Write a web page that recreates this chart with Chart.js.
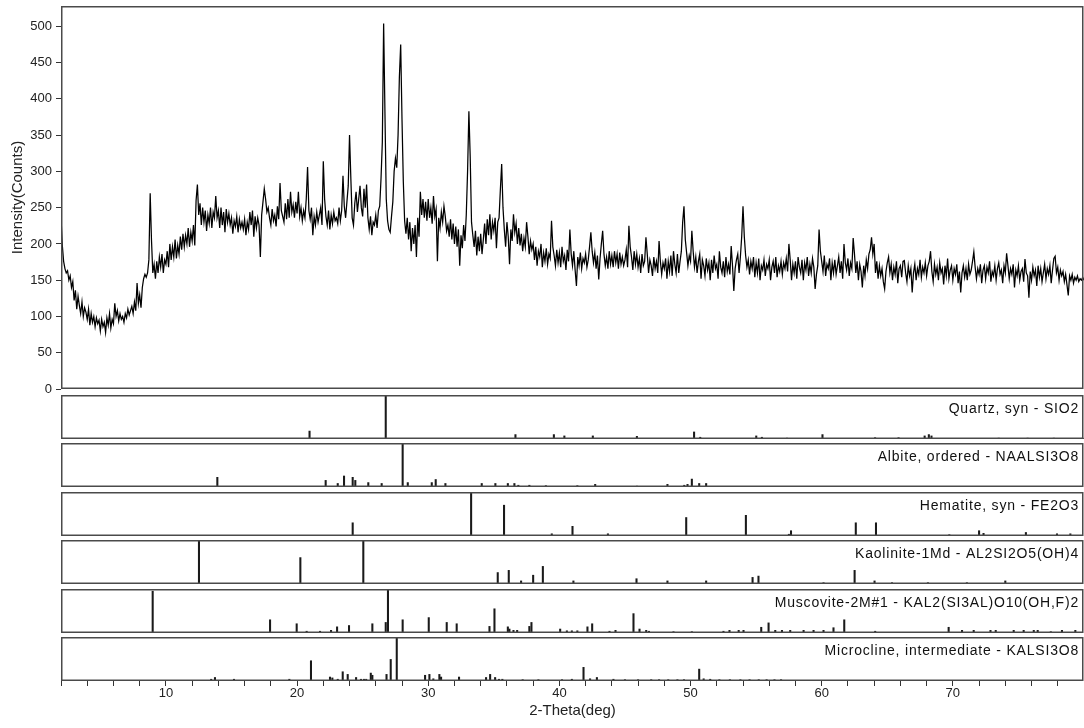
<!DOCTYPE html>
<html>
<head>
<meta charset="utf-8">
<title>XRD pattern</title>
<script src="https://cdn.jsdelivr.net/npm/chart.js@4.4.1/dist/chart.umd.min.js"></script>
<style>
  body { margin: 0; background: #fff; }
  #wrap { position: relative; width: 1084px; height: 728px; overflow: hidden; }
  #wrap canvas { position: absolute; left: 0; }
</style>
</head>
<body>
<div id="wrap"></div>
<script>
// scan: 2-Theta from 2 to 80 deg, one reading every 0.1 deg
const thetaStart = 2;
const thetaStep = 0.1;
const counts = [
  237, 198, 176, 166, 160, 163, 150, 156, 140, 148,
  122, 136, 110, 128, 115, 104, 120, 100, 112, 106,
  96, 110, 88, 104, 92, 100, 86, 98, 90, 95,
  80, 96, 86, 92, 78, 98, 88, 104, 84, 96,
  90, 118, 100, 108, 94, 104, 96, 100, 92, 104,
  98, 110, 102, 108, 114, 104, 120, 108, 146, 118,
  130, 112, 140, 152, 158, 154, 160, 178, 270, 205,
  160, 172, 152, 176, 160, 182, 168, 186, 160, 178,
  172, 190, 168, 200, 178, 196, 182, 206, 180, 198,
  186, 210, 192, 214, 196, 212, 200, 222, 196, 216,
  204, 226, 198, 260, 282, 240, 256, 226, 250, 230,
  246, 218, 240, 228, 250, 222, 244, 236, 266, 236,
  246, 222, 250, 226, 244, 216, 248, 230, 242, 226,
  236, 214, 232, 224, 238, 216, 234, 222, 230, 220,
  234, 212, 230, 220, 244, 226, 246, 210, 238, 222,
  236, 226, 182, 240, 258, 276, 262, 244, 250, 236,
  226, 248, 232, 240, 224, 252, 234, 284, 246, 238,
  230, 256, 234, 262, 236, 272, 244, 254, 236, 258,
  242, 272, 238, 250, 232, 246, 236, 262, 306, 246,
  234, 250, 212, 238, 226, 244, 230, 240, 250, 226,
  314, 262, 238, 226, 246, 220, 240, 228, 244, 232,
  236, 228, 250, 232, 246, 294, 252, 236, 258, 280,
  350, 290, 236, 226, 256, 272, 244, 262, 280, 250,
  238, 276, 250, 282, 236, 220, 238, 212, 230, 226,
  240, 222, 246, 252, 290, 340, 504, 380, 262, 232,
  220, 216, 238, 258, 300, 318, 305, 350, 430, 475,
  372, 286, 232, 214, 236, 206, 230, 190, 222, 200,
  226, 182, 236, 210, 272, 240, 262, 236, 258, 232,
  262, 236, 250, 228, 266, 238, 248, 176, 236, 222,
  244, 230, 252, 238, 218, 226, 210, 234, 206, 228,
  200, 224, 196, 220, 170, 212, 194, 226, 204, 240,
  300, 383, 320, 230, 212, 196, 218, 184, 210, 190,
  214, 186, 206, 228, 200, 234, 212, 241, 206, 230,
  218, 236, 194, 230, 236, 275, 310, 250, 220, 196,
  230, 210, 172, 220, 204, 241, 216, 228, 200, 222,
  198, 214, 190, 208, 196, 230, 210, 186, 204, 192,
  200, 178, 196, 170, 190, 182, 200, 168, 188, 176,
  194, 172, 186, 180, 232, 196, 184, 170, 192, 174,
  188, 168, 196, 176, 184, 164, 192, 176, 220, 186,
  170, 190, 164, 142, 182, 170, 188, 166, 180, 174,
  186, 168, 178, 196, 216, 190, 174, 188, 166, 184,
  151, 180, 200, 218, 186, 170, 182, 166, 190, 172,
  184, 168, 190, 174, 186, 166, 188, 172, 182, 170,
  178, 192, 168, 225, 196, 182, 164, 190, 172, 186,
  168, 180, 160, 186, 170, 176, 209, 186, 160, 178,
  170, 156, 182, 166, 176, 160, 204, 176, 158, 174,
  166, 180, 152, 176, 162, 184, 156, 190, 172, 160,
  186, 160, 176, 190, 230, 252, 206, 188, 170, 184,
  176, 218, 190, 168, 182, 160, 176, 186, 152, 178,
  170, 156, 180, 164, 174, 150, 178, 160, 184, 166,
  172, 152, 190, 168, 160, 176, 154, 182, 162, 172,
  158, 197, 170, 135, 166, 178, 186, 160, 182, 210,
  252, 210, 184, 168, 178, 158, 176, 166, 182, 154,
  174, 160, 180, 150, 170, 164, 178, 156, 172, 166,
  178, 150, 168, 176, 160, 182, 154, 170, 162, 176,
  158, 174, 166, 180, 162, 200, 178, 150, 172, 160,
  176, 152, 182, 168, 160, 178, 150, 174, 164, 182,
  156, 172, 160, 180, 168, 138, 158, 170, 220, 190,
  176, 162, 184, 156, 172, 166, 180, 150, 174, 160,
  178, 158, 170, 182, 160, 176, 152, 200, 174, 164,
  180, 156, 174, 166, 208, 186, 160, 176, 150, 172,
  162, 140, 170, 156, 178, 166, 186, 192, 209, 186,
  200, 160, 176, 152, 170, 156, 166, 148, 138, 162,
  174, 182, 160, 172, 150, 168, 158, 176, 146, 166,
  170, 154, 176, 177, 160, 148, 170, 156, 166, 133,
  160, 172, 150, 166, 158, 178, 154, 168, 160, 174,
  156, 170, 176, 190, 162, 148, 172, 158, 168, 150,
  174, 160, 166, 144, 170, 156, 180, 152, 164, 170,
  150, 166, 158, 172, 146, 162, 133, 160, 170, 154,
  166, 150, 172, 158, 164, 176, 189, 168, 152, 166,
  158, 172, 146, 164, 170, 152, 168, 160, 176, 148,
  162, 156, 170, 150, 166, 174, 158, 164, 146, 170,
  160, 187, 170, 152, 166, 158, 172, 140, 164, 156,
  170, 150, 162, 166, 148, 179, 160, 156, 126, 162,
  150, 168, 156, 164, 142, 170, 154, 166, 148, 160,
  172, 152, 166, 158, 170, 146, 164, 180, 183, 160,
  168, 150, 164, 156, 162, 148, 158, 144, 129, 156,
  150, 158, 146, 154, 150, 156, 148, 152, 150, 154,
  150
];

// reference patterns: stick positions (deg) and relative heights (%)
const quartzPos = [20.95, 26.76, 36.65, 39.58, 40.38, 42.55, 45.91, 50.27, 50.74, 55.01, 55.44, 57.35, 60.06, 64.07, 65.86, 67.85, 68.17, 68.37, 73.5, 75.7, 77.7, 79.9];
const quartzRel = [18, 100, 10, 10, 7, 7, 6, 16, 4, 7, 4, 2, 10, 3, 3, 7, 10, 7, 2, 2, 2, 2];

const albitePos = [13.92, 22.18, 23.10, 23.58, 24.24, 24.44, 25.43, 26.45, 28.05, 28.44, 30.27, 30.57, 31.31, 34.08, 35.12, 36.07, 36.57, 36.87, 37.71, 38.97, 41.37, 42.73, 45.91, 48.24, 49.52, 49.77, 50.10, 50.66, 51.19];
const albiteRel = [22, 15, 8, 25, 22, 15, 10, 8, 100, 10, 10, 17, 8, 8, 8, 8, 8, 4, 4, 3, 3, 6, 2, 6, 4, 6, 18, 8, 8];

const hematitePos = [24.24, 33.27, 35.78, 39.42, 41.0, 43.7, 49.67, 54.22, 57.5, 57.66, 62.6, 64.14, 69.73, 72.0, 72.34, 75.57, 77.94, 78.96];
const hematiteRel = [30, 100, 70, 5, 22, 5, 42, 47, 4, 12, 30, 30, 3, 12, 6, 8, 5, 5];

const kaolinitePos = [12.52, 20.25, 25.05, 35.30, 36.14, 37.08, 38.0, 38.74, 41.07, 45.88, 48.24, 51.19, 54.73, 55.18, 60.14, 62.51, 64.03, 65.36, 68.1, 71.07, 74.0];
const kaoliniteRel = [100, 60, 100, 26, 31, 7, 20, 40, 7, 12, 7, 7, 15, 18, 3, 31, 7, 3, 3, 3, 7];

const muscovitePos = [8.99, 17.94, 19.97, 20.73, 21.75, 22.59, 23.05, 23.96, 25.74, 26.76, 26.93, 28.05, 30.04, 31.41, 32.17, 34.67, 35.05, 36.07, 36.19, 36.5, 36.78, 37.71, 37.87, 40.06, 40.57, 40.95, 41.37, 42.14, 42.5, 43.82, 44.28, 45.65, 46.11, 46.62, 46.83, 48.7, 50.1, 52.51, 52.97, 53.67, 54.04, 55.39, 55.95, 56.46, 56.97, 57.6, 58.62, 59.38, 60.14, 60.9, 61.72, 64.08, 69.68, 70.7, 71.59, 72.87, 73.27, 74.64, 75.4, 76.17, 76.47, 77.47, 78.32, 79.34];
const muscoviteRel = [95, 30, 21, 4, 4, 6, 14, 17, 21, 24, 100, 30, 35, 24, 21, 15, 55, 14, 9, 6, 6, 15, 24, 9, 5, 5, 5, 14, 21, 4, 6, 44, 9, 6, 4, 3, 3, 4, 6, 6, 6, 13, 23, 6, 6, 6, 6, 6, 6, 12, 30, 4, 13, 6, 6, 6, 6, 6, 6, 6, 6, 3, 6, 6];

const microclinePos = [13.45, 13.74, 15.19, 19.41, 21.06, 22.51, 22.69, 23.10, 23.48, 23.86, 24.50, 24.87, 25.10, 25.27, 25.62, 25.74, 26.82, 27.14, 27.60, 29.76, 30.09, 30.39, 30.85, 30.98, 32.35, 34.41, 34.72, 35.10, 35.40, 35.65, 37.2, 38.4, 40.2, 40.95, 41.84, 42.34, 42.86, 44.12, 45.0, 46.0, 47.0, 47.6, 48.3, 49.0, 49.5, 50.66, 51.0, 51.5, 52.2, 53.0, 53.8, 54.5, 55.2, 55.8, 56.4, 56.9];
const microclineRel = [4, 8, 4, 4, 46, 9, 7, 4, 21, 15, 8, 4, 4, 4, 18, 13, 15, 49, 100, 13, 15, 5, 15, 9, 9, 8, 15, 8, 4, 4, 3, 3, 3, 4, 31, 5, 8, 4, 3, 3, 3, 3, 3, 3, 3, 27, 5, 4, 3, 3, 3, 3, 3, 3, 3, 3];

const phaseNames = [
  'Quartz, syn - SIO2',
  'Albite, ordered - NAALSI3O8',
  'Hematite, syn - FE2O3',
  'Kaolinite-1Md - AL2SI2O5(OH)4',
  'Muscovite-2M#1 - KAL2(SI3AL)O10(OH,F)2',
  'Microcline, intermediate - KALSI3O8'
];
const phasePos = [quartzPos, albitePos, hematitePos, kaolinitePos, muscovitePos, microclinePos];
const phaseRel = [quartzRel, albiteRel, hematiteRel, kaoliniteRel, muscoviteRel, microclineRel];

const yTicksStep = 50;

Chart.defaults.font.family = '"Liberation Sans", Arial, sans-serif';
Chart.defaults.color = '#222';
Chart.defaults.animation = false;

// frame around each plot area, plus the phase name in the upper right
const panelFrame = {
  id: 'panelFrame',
  afterDraw(chart, args, opts) {
    const { ctx, chartArea: a } = chart;
    ctx.save();
    ctx.strokeStyle = '#4a4a4a';
    ctx.lineWidth = 1.5;
    ctx.strokeRect(a.left + 0.75, a.top + 0.75, a.right - a.left - 2, a.bottom - a.top - 1.5);
    if (opts.label) {
      ctx.fillStyle = '#111';
      ctx.font = '14px "Liberation Sans", Arial, sans-serif';
      ctx.letterSpacing = '0.8px';
      ctx.textAlign = 'right';
      ctx.textBaseline = 'alphabetic';
      ctx.fillText(opts.label, a.right - 5, a.top + 18);
    }
    ctx.restore();
  }
};

const wrap = document.getElementById('wrap');
function addCanvas(top, height) {
  const c = document.createElement('canvas');
  c.width = 1084;
  c.height = height;
  c.style.top = top + 'px';
  wrap.appendChild(c);
  return c;
}

// main scan
const scan = counts.map((c, i) => ({ x: +(thetaStart + i * thetaStep).toFixed(2), y: c }));

new Chart(addCanvas(0, 400), {
  type: 'line',
  data: {
    datasets: [{
      data: scan,
      borderColor: '#000',
      borderWidth: 1.25,
      pointRadius: 0,
      tension: 0
    }]
  },
  options: {
    responsive: false,
    layout: { padding: { top: 6, right: 0, bottom: 11, left: 0 } },
    plugins: { legend: { display: false }, tooltip: { enabled: false }, panelFrame: {} },
    scales: {
      x: { type: 'linear', min: 2, max: 80, display: false },
      y: {
        min: 0,
        max: 528,
        afterFit(scale) { scale.width = 61; },
        afterBuildTicks(scale) {
          scale.ticks = scale.ticks.filter(t => t.value % yTicksStep === 0);
        },
        ticks: { stepSize: yTicksStep, padding: 4, color: '#222', font: { size: 13, lineHeight: 0.2 } },
        grid: { drawOnChartArea: false, drawTicks: true, tickLength: 5, color: '#333' },
        border: { display: false },
        title: {
          display: true,
          text: 'Intensity(Counts)',
          color: '#222',
          font: { size: 15 },
          padding: { top: 9, bottom: 0 }
        }
      }
    }
  },
  plugins: [panelFrame]
});

// reference stick panels
const panelTops = [395, 443, 492, 540, 589, 637];
const panelHeight = 44;

phaseNames.forEach((name, k) => {
  const last = k === phaseNames.length - 1;
  const top = panelTops[k] - 2;
  const height = last ? 728 - top : panelHeight + 4;
  new Chart(addCanvas(top, height), {
    type: 'bar',
    data: {
      datasets: [{
        data: phasePos[k].map((p, i) => ({ x: p, y: phaseRel[k][i] })),
        backgroundColor: '#1a1a1a',
        borderWidth: 0,
        barThickness: 1.4
      }]
    },
    options: {
      responsive: false,
      layout: { padding: { top: 2, right: 0, bottom: last ? 0 : 2, left: 61 } },
      plugins: { legend: { display: false }, tooltip: { enabled: false }, panelFrame: { label: name } },
      scales: {
        x: last ? {
          type: 'linear',
          min: 2,
          max: 80,
          offset: false,
          afterFit(scale) { scale.height = 728 - (top + 2 + panelHeight); },
          ticks: {
            stepSize: 2,
            autoSkip: false,
            maxRotation: 0,
            padding: 0,
            color: '#222',
            font: { size: 13 },
            callback: v => (v % 10 === 0 && v < 80) ? v : ''
          },
          grid: { drawOnChartArea: false, drawTicks: true, tickLength: 5, color: '#333', offset: false },
          border: { display: false },
          title: {
            display: true,
            text: '2-Theta(deg)',
            color: '#222',
            font: { size: 15 },
            padding: { top: 0, bottom: 8 }
          }
        } : { type: 'linear', min: 2, max: 80, offset: false, display: false },
        y: { min: 0, max: 100, display: false }
      }
    },
    plugins: [panelFrame]
  });
});
</script>
</body>
</html>
